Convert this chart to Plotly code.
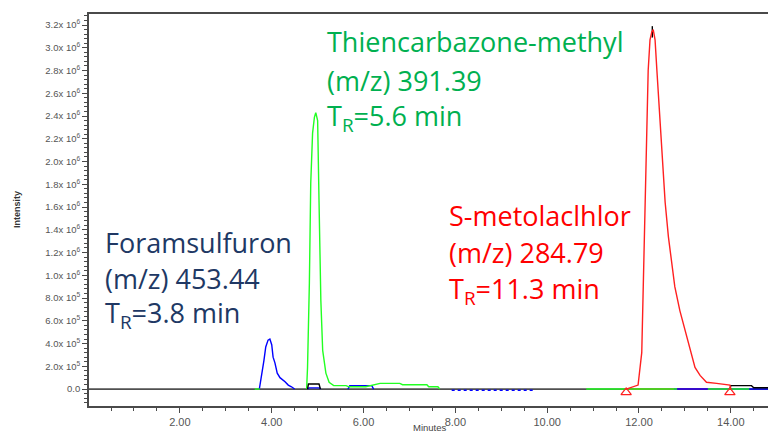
import math
import plotly.graph_objects as go

# Extracted-ion chromatograms: retention time (min) vs intensity (counts).
# None separates segments that the acquisition software did not draw.
foram_t = [3.73, 3.78, 3.83, 3.87, 3.92, 3.96, 4.00, 4.03, 4.07, 4.12, 4.18, 4.29, 4.36, 4.43, 4.50,
           None, 4.78, 4.81, 5.04, 5.07,
           None, 5.66, 5.70, 6.18, 6.22,
           None, 12.76, 14.81]
foram_i = [0, 0.11e6, 0.25e6, 0.37e6, 0.43e6, 0.44e6, 0.39e6, 0.28e6, 0.23e6, 0.14e6, 0.10e6, 0.065e6, 0.035e6, 0.02e6, 0,
           None, 0, 0.01e6, 0.01e6, 0,
           None, 0, 0.03e6, 0.03e6, 0,
           None, 0, 0]

# low-level noise on the m/z 453 channel
foram_noise_t = [7.92, 9.73]
foram_noise_i = [-0.01e6, -0.01e6]

thien_t = [3.63, 3.74,
           None, 4.76, 4.78, 4.82, 4.85, 4.89, 4.93, 4.96, 5.00, 5.03, 5.07, 5.11, 5.18, 5.25, 5.35,
           5.62, 5.68, 6.05, 6.15, 6.36, 6.79, 6.85, 7.38, 7.42, 7.62, 7.66,
           None, 10.85, 12.83,
           None, 13.50, 14.40]
thien_i = [0, 0,
           None, 0, 0.19e6, 0.93e6, 1.81e6, 2.25e6, 2.39e6, 2.43e6, 2.36e6, 1.66e6, 0.78e6, 0.34e6, 0.14e6, 0.06e6, 0.03e6,
           0.03e6, 0.02e6, 0.02e6, 0.03e6, 0.05e6, 0.05e6, 0.038e6, 0.038e6, 0.02e6, 0.02e6, 0,
           None, 0, 0,
           None, 0, 0]

smeto_t = [11.72, 11.98, 12.06, 12.09, 12.13, 12.17, 12.20, 12.24, 12.28, 12.31, 12.35, 12.39, 12.46, 12.53,
           12.57, 12.64, 12.71, 12.78, 12.89, 13.00, 13.11, 13.22, 13.33, 13.47, 13.69, 13.98, 14.00]
smeto_i = [0, 0.035e6, 0.32e6, 0.90e6, 1.64e6, 2.36e6, 2.80e6, 3.07e6, 3.14e6, 3.16e6, 3.07e6, 2.80e6, 2.36e6, 1.93e6,
           1.64e6, 1.34e6, 1.13e6, 0.90e6, 0.69e6, 0.52e6, 0.34e6, 0.19e6, 0.12e6, 0.06e6, 0.05e6, 0.035e6, 0]

# integration start / end of the S-metolachlor peak
smeto_limits_t = [11.72, 13.98]
smeto_limits_i = [-0.03e6, -0.03e6]

# total / reference channel (black)
ref_t = [4.78, 4.80, 5.03, 5.06, None, 13.98, 14.00, 14.45, 14.50, 14.81, None, 12.29, 12.29]
ref_i = [0, 0.045e6, 0.045e6, 0, None, 0, 0.03e6, 0.03e6, 0.012e6, 0.012e6, None, 3.09e6, 3.19e6]

x_ticks = [2, 4, 6, 8, 10, 12, 14]
y_ticks = [i * 2e5 for i in range(17)]

# compound labels: name, m/z, retention time
labels = [
    ("Foramsulfuron", "453.44", "3.8", "#203864"),
    ("Thiencarbazone-methyl", "391.39", "5.6", "#00B050"),
    ("S-metolaclhlor", "284.79", "11.3", "#FF0000"),
]


def sci_label(v):
    if v == 0:
        return "0.0"
    e = int(math.floor(math.log10(v)))
    return "%.1fx 10<sup>%d</sup>" % (v / 10 ** e, e)


fig = go.Figure()

line_w = 1.4
fig.add_trace(go.Scatter(x=smeto_limits_t, y=[0, 0], mode="lines",
                         line=dict(color="#FF2020", width=line_w), hoverinfo="skip"))
fig.add_trace(go.Scatter(x=foram_t, y=foram_i, mode="lines", connectgaps=False,
                         line=dict(color="#0000FF", width=line_w)))
fig.add_trace(go.Scatter(x=foram_noise_t, y=foram_noise_i, mode="lines",
                         line=dict(color="#0000FF", width=line_w, dash="dot")))
fig.add_trace(go.Scatter(x=thien_t, y=thien_i, mode="lines", connectgaps=False,
                         line=dict(color="#22FF22", width=line_w)))
fig.add_trace(go.Scatter(x=ref_t, y=ref_i, mode="lines", connectgaps=False,
                         line=dict(color="#000000", width=line_w)))
fig.add_trace(go.Scatter(x=smeto_t, y=smeto_i, mode="lines",
                         line=dict(color="#FF2020", width=line_w)))
fig.add_trace(go.Scatter(x=smeto_limits_t, y=smeto_limits_i, mode="markers",
                         marker=dict(symbol="triangle-up-open", size=9, color="#FF2020",
                                     line=dict(width=1.3, color="#FF2020"))))

# zero-intensity baseline
fig.add_shape(type="line", xref="paper", x0=0, x1=1, yref="y", y0=0, y1=0,
              line=dict(color="#505050", width=1.8), layer="below")

# plot area in pixels: left 89, right 768, top 14, bottom 406
L, R, T, B = 89, 768, 14, 406


def px(xp, yp):
    return (xp - L) / (R - L), (B - yp) / (B - T)


label_pos = [(103, [242, 278, 314]), (325, [42, 80, 117]), (447, [215, 253, 290])]
annotations = []
for (name, mz, tr, col), (lx, ys) in zip(labels, label_pos):
    texts = [name, "(m/z) " + mz, "T<sub>R</sub>=" + tr + " min"]
    for txt, yy in zip(texts, ys):
        ax, ay = px(lx, yy)
        annotations.append(dict(text=txt, xref="paper", yref="paper", x=ax, y=ay,
                                xanchor="left", yanchor="middle", showarrow=False,
                                font=dict(family="Open Sans", size=27, color=col)))

mx, my = px(430, 428)
annotations.append(dict(text="Minutes", xref="paper", yref="paper", x=mx, y=my,
                        xanchor="center", yanchor="middle", showarrow=False,
                        font=dict(family="Liberation Sans", size=9.5, color="#444444")))
ix, iy = px(17, 210)
annotations.append(dict(text="<b>Intensity</b>", xref="paper", yref="paper", x=ix, y=iy,
                        xanchor="center", yanchor="middle", showarrow=False, textangle=-90,
                        font=dict(family="Liberation Sans", size=9, color="#333333")))

fig.update_layout(
    width=768, height=434,
    margin=dict(l=L, r=768 - R, t=T, b=434 - B),
    paper_bgcolor="white", plot_bgcolor="white",
    showlegend=False,
    annotations=annotations,
    xaxis=dict(range=[0.02, 14.81], tickmode="array", tickvals=x_ticks,
               ticktext=["%.2f" % v for v in x_ticks],
               showgrid=False, zeroline=False, showline=True, mirror=True,
               linecolor="#4a4a4a", linewidth=1.8,
               ticks="outside", ticklen=5, tickcolor="#4a4a4a", tickwidth=1,
               minor=dict(tickmode="linear", tick0=0, dtick=0.5, ticks="outside",
                          ticklen=3, tickcolor="#4a4a4a"),
               tickfont=dict(family="Liberation Sans", size=11, color="#555555")),
    yaxis=dict(range=[-0.149e6, 3.297e6], tickmode="array", tickvals=y_ticks,
               ticktext=[sci_label(v) for v in y_ticks],
               showgrid=False, zeroline=False, showline=True,
               linecolor="#4a4a4a", linewidth=1.8,
               ticks="outside", ticklen=5, tickcolor="#4a4a4a", tickwidth=1,
               minor=dict(tickmode="linear", tick0=0, dtick=4e4, ticks="outside",
                          ticklen=3, tickcolor="#4a4a4a"),
               tickfont=dict(family="Liberation Sans", size=9.5, color="#555555")),
)

fig.write_html("out.html")
